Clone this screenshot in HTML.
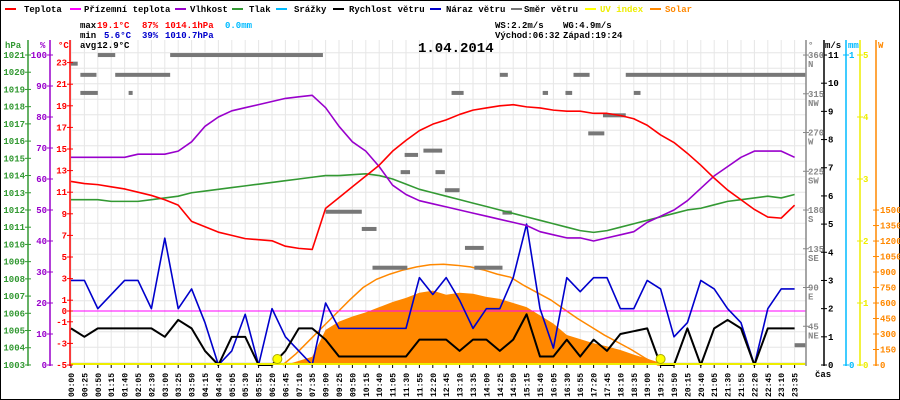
<!DOCTYPE html>
<html><head><meta charset="utf-8"><style>
html,body{margin:0;padding:0;background:#fff;}
svg{display:block;font-family:"Liberation Mono",monospace;font-weight:bold;}
</style></head><body>
<svg id="c" width="900" height="400" viewBox="0 0 900 400" xmlns="http://www.w3.org/2000/svg">
<rect x="0.5" y="0.5" width="899" height="399" fill="#fff" stroke="#000"/>
<g id="grid"></g>
<g id="series"></g>
<g id="axes"></g>
<g font-size="9">
 <g><rect x="5" y="8" width="11" height="2" fill="#f00"/><text x="24" y="12" fill="#000">Teplota</text></g>
 <g><rect x="70" y="8" width="11" height="2" fill="#f0f"/><text x="84" y="12" fill="#000">Přízemní teplota</text></g>
 <g><rect x="175" y="8" width="11" height="2" fill="#90c"/><text x="190" y="12" fill="#000">Vlhkost</text></g>
 <g><rect x="232" y="8" width="11" height="2" fill="#393"/><text x="249" y="12" fill="#000">Tlak</text></g>
 <g><rect x="276" y="8" width="11" height="2" fill="#0bf"/><text x="294" y="12" fill="#000">Srážky</text></g>
 <g><rect x="333" y="8" width="11" height="2" fill="#000"/><text x="349" y="12" fill="#000">Rychlost větru</text></g>
 <g><rect x="430" y="8" width="11" height="2" fill="#00c"/><text x="446" y="12" fill="#000">Náraz větru</text></g>
 <g><rect x="511" y="8" width="11" height="2" fill="#777"/><text x="524" y="12" fill="#000">Směr větru</text></g>
 <g><rect x="585" y="8" width="11" height="2" fill="#ff0"/><text x="600" y="12" fill="#ee0">UV index</text></g>
 <g><rect x="650" y="8" width="11" height="2" fill="#f80"/><text x="665" y="12" fill="#f80">Solar</text></g>
</g>
<g font-size="9">
 <text x="80" y="28" fill="#000">max</text><text x="97" y="28" fill="#f00">19.1°C</text><text x="142" y="28" fill="#f00">87%</text><text x="165" y="28" fill="#f00">1014.1hPa</text><text x="225" y="28" fill="#0bf">0.0mm</text>
 <text x="80" y="38" fill="#000">min</text><text x="104" y="38" fill="#00c">5.6°C</text><text x="142" y="38" fill="#00c">39%</text><text x="165" y="38" fill="#00c">1010.7hPa</text>
 <text x="80" y="48" fill="#000">avg</text><text x="97" y="48" fill="#000">12.9°C</text>
 <text x="495" y="28" fill="#000">WS:2.2m/s</text><text x="563" y="28" fill="#000">WG:4.9m/s</text>
 <text x="495" y="38" fill="#000">Východ:06:32</text><text x="563" y="38" fill="#000">Západ:19:24</text>
</g>
<text x="418" y="52" font-size="14" fill="#000">1.04.2014</text>
</svg>
<script>
const timeLabels=["00:00","00:25","00:50","01:15","01:40","02:05","02:30","03:00","03:25","03:50","04:15","04:40","05:05","05:30","05:55","06:20","06:45","07:10","07:35","09:00","09:25","09:50","10:15","10:40","11:05","11:30","11:55","12:20","12:45","13:10","13:35","14:00","14:25","14:50","15:15","15:40","16:05","16:30","16:55","17:20","17:45","18:10","18:35","19:00","19:25","19:50","20:15","20:40","21:05","21:30","21:55","22:20","22:45","23:10","23:35"];
const temperature=[12,11.8,11.7,11.5,11.3,11,10.7,10.3,9.8,8.3,7.8,7.3,7,6.7,6.6,6.5,6,5.8,5.7,9.5,10.5,11.5,12.5,13.5,14.8,15.8,16.7,17.3,17.7,18.2,18.6,18.8,19,19.1,18.9,18.8,18.6,18.5,18.5,18.3,18.3,18.1,17.8,17.2,16.3,15.6,14.6,13.5,12.3,11.2,10.3,9.4,8.7,8.6,9.8];
const humidity=[67,67,67,67,67,68,68,68,69,72,77,80,82,83,84,85,86,86.5,87,83,77,72,69,64,58,55,53,52,51,50,49,48,47,46,45,43,42,41,41,40,41,42,43,46,48,50,53,57,61,64,67,69,69,69,67];
const pressure=[1012.6,1012.6,1012.6,1012.5,1012.5,1012.5,1012.6,1012.7,1012.8,1013,1013.1,1013.2,1013.3,1013.4,1013.5,1013.6,1013.7,1013.8,1013.9,1014,1014,1014.05,1014.1,1014,1013.8,1013.5,1013.2,1013,1012.8,1012.6,1012.4,1012.2,1012,1011.8,1011.6,1011.4,1011.2,1011,1010.8,1010.7,1010.8,1011,1011.2,1011.4,1011.6,1011.8,1012,1012.1,1012.3,1012.5,1012.6,1012.7,1012.8,1012.7,1012.9];
const windSpeed=[1.3,1,1.3,1.3,1.3,1.3,1.3,1,1.6,1.3,0.5,0,1,1,0,0,0.5,1.3,1.3,0.9,0.3,0.3,0.3,0.3,0.3,0.3,0.9,0.9,0.9,0.5,0.9,0.9,0.5,0.9,1.8,0.3,0.3,0.9,0.3,0.9,0.5,1.1,1.2,1.3,0,0,1.3,0,1.3,1.6,1.3,0,1.3,1.3,1.3];
const windGust=[3,3,2,2.5,3,3,2,4.5,2,2.7,1.5,0,0.5,1.8,0,2,1,0.5,0,2.2,1.3,1.3,1.3,1.3,1.3,1.3,3.1,2.5,3.1,2.3,1.3,2,2,3.1,5,2,0.6,3.1,2.6,3.1,3.1,2,2,3,2.7,1,1.5,3,2.7,2,1.5,0,2,2.7,2.7];
const solarIdx=[16,17,18,19,20,21,22,23,24,25,26,27,28,29,30,31,32,33,34,35,36,37,38,39,40,41,42,43,44,45];
const solarMeasured=[0,40,80,340,420,470,510,560,610,650,700,720,680,700,690,660,640,600,560,480,400,290,250,210,180,145,100,60,20,0];
const solarTheory=[0,110,240,370,500,630,750,830,880,920,950,970,975,965,950,920,880,850,770,700,630,540,450,370,290,220,150,70,0,0];
const dirStart=[0,0.7,0.7,2,3.3,4.3,7.4,19,21.7,22.5,24.6,24.9,26.3,27.2,27.9,28.4,29.4,30.1,32,32.2,35.2,36.9,37.5,38.6,39.7,41.4,42,54];
const dirEnd=[0.5,1.9,2,3.3,7.4,4.6,18.8,21.7,22.8,25.1,25.3,25.9,27.7,27.9,29,29.3,30.8,32.2,32.6,32.9,35.6,37.4,38.7,39.8,41.4,54.8,42.5,54.8];
const dirDeg=[350,337,316,360,337,316,360,178,158,113,224,244,249,224,203,316,136,113,337,177,316,316,337,269,290,337,316,23];
const uvIdx=[0,54.8];
const uvVal=[0,0];

const NS="http://www.w3.org/2000/svg";
const X=i=>71+13.4*i;
const yT=t=>311-10.8*t, yH=h=>365-3.1*h, yP=p=>55+(1021-p)*17.22, yV=v=>365-28.18*v, yD=d=>365-0.861*d, yW=w=>365-0.1033*w, yUV=u=>365-62*u;
function mk(tag,attrs,parent){const e=document.createElementNS(NS,tag);for(const k in attrs)e.setAttribute(k,attrs[k]);parent.appendChild(e);return e;}
const grid=document.getElementById('grid'),ser=document.getElementById('series'),ax=document.getElementById('axes');
// grid
for(let k=0;k<21;k++){const y=52.7+15.5*k;if(y>365)break;const l=mk('line',{x1:70,x2:806,y1:y,y2:y,stroke:'#e6e6e6'},grid);

}
timeLabels.forEach((t,i)=>{const l=mk('line',{x1:X(i),x2:X(i),y1:40,y2:365,stroke:'#e6e6e6'},grid);


const tk=mk('line',{x1:X(i),x2:X(i),y1:365,y2:368,stroke:'#000'},ax);


const tx=mk('text',{x:0,y:0,'font-size':8,fill:'#000',transform:`translate(${X(i)+3},397) rotate(-90)`},ax);tx.textContent=t;

});
function poly(vals,fx,fy,color,name,w){const pts=vals.map((v,i)=>fx(i)+','+fy(v)).join(' ');const p=mk('polyline',{points:pts,fill:'none',stroke:color,'stroke-width':w||1.5,'stroke-linejoin':'round'},ser);

return p;}
// solar area
{let pts=solarIdx.map((ix,k)=>X(ix)+','+yW(solarMeasured[k])).join(' ');pts=X(solarIdx[0])+',365 '+pts+' '+X(solarIdx[solarIdx.length-1])+',365';
const a=mk('polygon',{points:pts,fill:'#f80'},ser);

}
{const pts=solarIdx.map((ix,k)=>X(ix-0.2)+','+yW(solarTheory[k])).join(' ');const l=mk('polyline',{points:pts,fill:'none',stroke:'#f80','stroke-width':1.5},ser);

}
// wind direction bars
dirDeg.forEach((d,k)=>{const r=mk('rect',{x:X(dirStart[k]),y:yD(d)-2,width:Math.max(3,X(dirEnd[k])-X(dirStart[k])),height:4,fill:'#777'},ser);

});
// zero line (ground temp)
{const l=mk('line',{x1:70,x2:806,y1:yT(0),y2:yT(0),stroke:'#f0f','stroke-width':1},ser);

}
poly(windGust,X,yV,'#00c','wind-gust-line',1.6);
poly(windSpeed,X,yV,'#000','wind-speed-line',2);
poly(pressure,X,yP,'#393','pressure-line',1.6);
poly(humidity,X,yH,'#90c','humidity-line',1.6);
poly(temperature,X,yT,'#f00','temperature-line',1.6);
{const pts=uvIdx.map((ix,k)=>X(ix)+','+(yUV(uvVal[k])-1)).join(' ');const l=mk('polyline',{points:pts,fill:'none',stroke:'#ee0','stroke-width':2},ser);

}
[[15.4,'sunrise-marker'],[44,'sunset-marker']].forEach(([ix,n])=>{const c=mk('circle',{cx:X(ix),cy:359,r:4.5,fill:'#ff0',stroke:'#aa0'},ser);

});
// axes
function axis(x,color,name){const l=mk('line',{x1:x,x2:x,y1:40,y2:366,stroke:color,'stroke-width':1.5},ax);

}
function tick(x,y,color,label,lx,anchor,name){const t=mk('line',{x1:x-3,x2:x+3,y1:y,y2:y,stroke:color},ax);


const tx=mk('text',{x:lx,y:y+3,'font-size':9,fill:color,'text-anchor':anchor},ax);tx.textContent=label;

}
axis(28,'#393','pressure-axis');axis(50,'#90c','humidity-axis');axis(70,'#f00','temperature-axis');
axis(806,'#888','direction-axis');axis(824,'#000','wind-speed-axis');axis(846,'#0bf','rain-axis');axis(860,'#ee0','uv-axis');axis(876,'#f80','solar-axis');
const pTicks=[1003,1004,1005,1006,1007,1008,1009,1010,1011,1012,1013,1014,1015,1016,1017,1018,1019,1020,1021];
pTicks.forEach(p=>tick(28,yP(p),'#393',String(p),25,'end','pressure-axis'));
const hTicks=[0,10,20,30,40,50,60,70,80,90,100];
hTicks.forEach(h=>tick(50,yH(h),'#90c',String(h),47,'end','humidity-axis'));
const tTicks=[23,21,19,17,15,13,11,9,7,5,3,1,0,-1,-3,-5];
tTicks.forEach(t=>tick(70,yT(t),'#f00',String(t),67,'end','temperature-axis'));
const vTicks=[0,1,2,3,4,5,6,7,8,9,10,11];
vTicks.forEach(v=>tick(824,yV(v),'#000',String(v),828,'start','wind-speed-axis'));
const dTicks=[45,90,135,180,225,270,315,360];const dNames=['NE','E','SE','S','SW','W','NW','N'];
dTicks.forEach((d,k)=>{tick(806,yD(d),'#888',String(d),808,'start','direction-axis');const t=mk('text',{x:808,y:yD(d)+12,'font-size':9,fill:'#888'},ax);t.textContent=dNames[k];

});
tick(846,55,'#0bf','1',849,'start','rain-axis');tick(846,365,'#0bf','0',849,'start','rain-axis');
const uvTicks=[0,1,2,3,4,5];
uvTicks.forEach(u=>tick(860,yUV(u),'#ee0',String(u),863,'start','uv-axis'));
const wTicks=[0,150,300,450,600,750,900,1050,1200,1350,1500];
wTicks.forEach(w=>tick(876,yW(w),'#f80',String(w),880,'start','solar-axis'));
[['hPa',5,48,'#393'],['%',40,48,'#90c'],['°C',58,48,'#f00'],['°',808,48,'#888'],['m/s',825,48,'#000'],['mm',848,48,'#0bf'],['W',878,48,'#f80'],['čas',815,377,'#000']].forEach(([s,x,y,c])=>{const t=mk('text',{x:x,y:y,'font-size':9,fill:c},ax);t.textContent=s;

});
</script>
</body></html>
